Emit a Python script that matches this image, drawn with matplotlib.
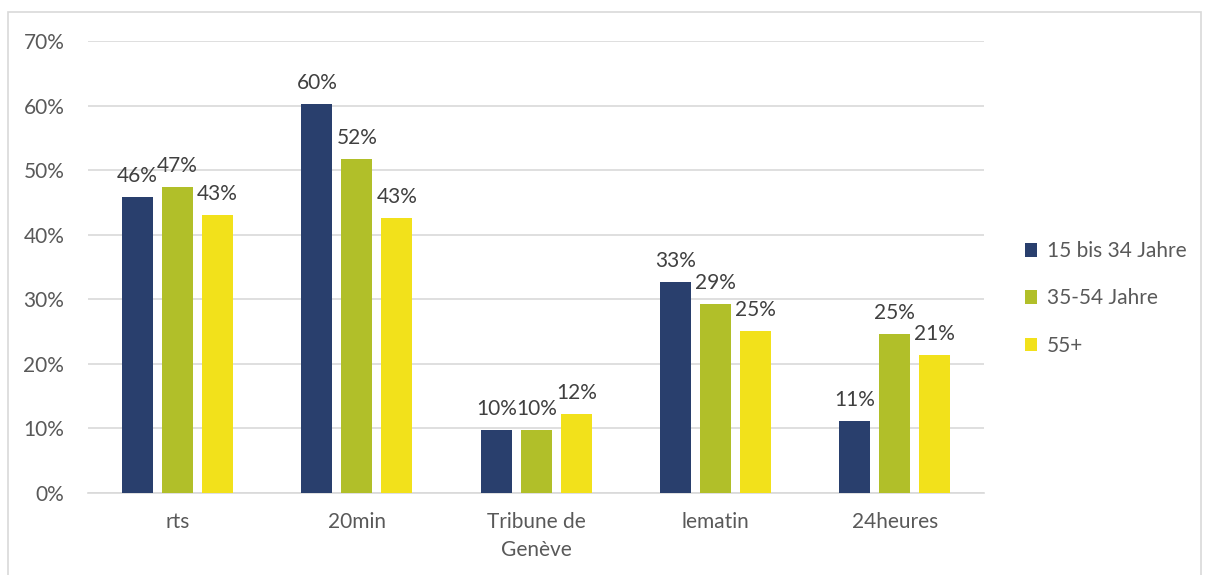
import matplotlib.pyplot as plt
import matplotlib.patches as mpatches
import numpy as np

plt.rcParams['font.family'] = ['Lato', 'DejaVu Sans']

categories = ['rts', '20min', 'Tribune de\nGenève', 'lematin', '24heures']
series_names = ['15 bis 34 Jahre', '35-54 Jahre', '55+']
jung = [45.8, 60.2, 9.7, 32.7, 11.2]
mittel = [47.4, 51.7, 9.7, 29.3, 24.6]
alt = [43.0, 42.6, 12.2, 25.1, 21.3]
colors = ['#293F6D', '#B1BF29', '#F2E11B']
textcol = '#595959'

fig = plt.figure(figsize=(12.05, 5.75), dpi=100)
ax = fig.add_axes([0.073, 0.1426, 0.744, 0.7861])

x = np.arange(len(categories))
w = 0.173
step = 0.223
for i, (vals, name) in enumerate(zip([jung, mittel, alt], series_names)):
    pos = x + (i - 1) * step
    bars = ax.bar(pos, vals, width=w, color=colors[i], label=name, zorder=3)
    for b, v in zip(bars, vals):
        ax.annotate('%d%%' % round(v), (b.get_x() + b.get_width() / 2, v),
                    xytext=(0, 8), textcoords='offset points', ha='center',
                    va='bottom', fontsize=15, color='#404040')

ax.set_xlim(-0.5, len(categories) - 0.5)
ax.set_ylim(0, 70)
ax.set_yticks(range(0, 71, 10))
ax.set_yticklabels(['%d%%' % t for t in range(0, 71, 10)])
ax.set_xticks(x)
ax.set_xticklabels(categories, linespacing=1.45)
ax.tick_params(length=0, labelsize=15, colors=textcol)
ax.tick_params(axis='y', pad=17)
ax.tick_params(axis='x', pad=14)
ax.grid(axis='y', color='#D9D9D9', lw=1.2, zorder=0)
for s in ['top', 'right', 'left']:
    ax.spines[s].set_visible(False)
ax.spines['bottom'].set_color('#D9D9D9')
ax.spines['bottom'].set_linewidth(1.2)

fig.legend(loc='center left', bbox_to_anchor=(0.835, 0.481), frameon=False,
           fontsize=15, labelcolor=textcol, handlelength=0.6, handleheight=0.6,
           handletextpad=0.45, labelspacing=1.3)

fig.patches.append(mpatches.Rectangle((0.007, -0.01), 0.99, 0.99, transform=fig.transFigure,
                                      fill=False, edgecolor='#D9D9D9', lw=1.2))

fig.savefig('out.png', dpi=100)
